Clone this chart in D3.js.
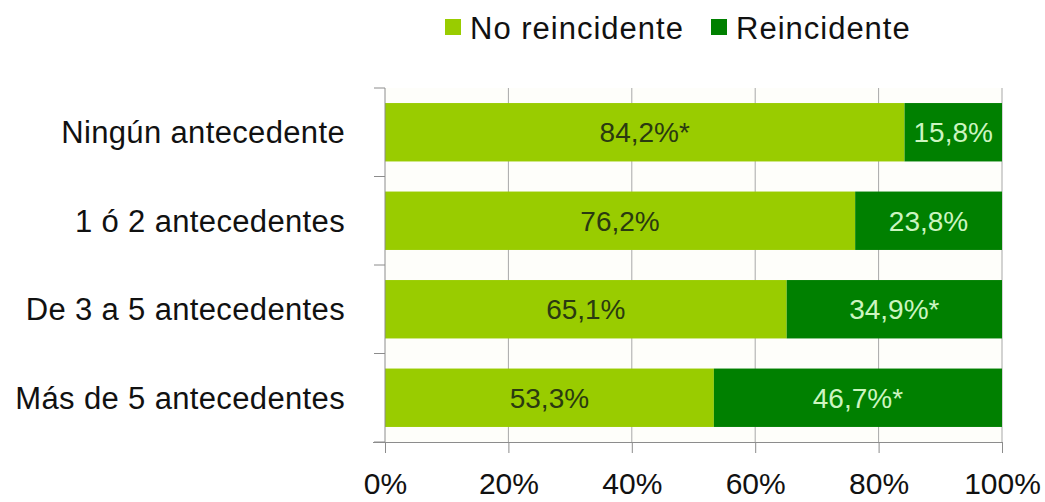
<!DOCTYPE html>
<html>
<head>
<meta charset="utf-8">
<script src="https://cdn.jsdelivr.net/npm/d3@7"></script>
<style>
  html, body { margin: 0; padding: 0; background: #ffffff; }
  svg { display: block; font-family: "Liberation Sans", Arial, sans-serif; }
</style>
</head>
<body>
<svg id="chart" width="1045" height="502"></svg>
<script>
// Categories (top to bottom) and the two stacked series, in percent
const categories = ["Ningún antecedente", "1 ó 2 antecedentes", "De 3 a 5 antecedentes", "Más de 5 antecedentes"];
const seriesNames = ["No reincidente", "Reincidente"];
const noReincidente = [84.2, 76.2, 65.1, 53.3];
const reincidente = [15.8, 23.8, 34.9, 46.7];
// Statistically significant cells get an asterisk
const sigNoReincidente = [true, false, false, false];
const sigReincidente = [false, false, true, true];
const xTicks = [0, 20, 40, 60, 80, 100];

const colors = ["#99cc00", "#008000"];
const labelColors = ["#2a3a10", "#ccf5c0"];

const svg = d3.select("#chart");
const margin = { left: 385, right: 43, top: 88, bottom: 60 };
const W = 1045, H = 502;
const plotBottom = H - margin.bottom;

const x = d3.scaleLinear().domain([0, 100]).range([margin.left, W - margin.right]);
const y = d3.scaleBand().domain(categories).range([margin.top, plotBottom]).paddingInner(0.34).paddingOuter(0.17);
const yOuter = d3.scaleBand().domain(categories).range([margin.top, plotBottom]);

// Plot background
svg.append("rect")
  .attr("x", x(0)).attr("y", margin.top)
  .attr("width", x(100) - x(0)).attr("height", plotBottom - margin.top)
  .attr("fill", "#fefefa");

// Vertical gridlines
svg.append("g").selectAll("line")
  .data(xTicks.slice(1))
  .join("line")
  .attr("x1", d => x(d)).attr("x2", d => x(d))
  .attr("y1", margin.top).attr("y2", plotBottom)
  .attr("stroke", "#a8a8a8").attr("stroke-width", 1);

// Stacked bars
const rows = categories.map((c, i) => ({ cat: c, v: [noReincidente[i], reincidente[i]], sig: [sigNoReincidente[i], sigReincidente[i]] }));
const fmt = v => d3.format(".1f")(v).replace(".", ",") + "%";

const barG = svg.append("g");
rows.forEach(r => {
  let start = 0;
  r.v.forEach((v, k) => {
    barG.append("rect")
      .attr("x", x(start)).attr("y", y(r.cat))
      .attr("width", x(start + v) - x(start)).attr("height", y.bandwidth())
      .attr("fill", colors[k]);
    barG.append("text")
      .attr("x", (x(start) + x(start + v)) / 2)
      .attr("y", y(r.cat) + y.bandwidth() / 2)
      .attr("dy", "0.36em")
      .attr("text-anchor", "middle")
      .attr("font-size", 28)
      .attr("fill", labelColors[k])
      .text(fmt(v) + (r.sig[k] ? "*" : ""));
    start += v;
  });
});

// Y axis: line with ticks at band boundaries
const axisColor = "#8c8c8c";
svg.append("line")
  .attr("x1", x(0)).attr("x2", x(0))
  .attr("y1", margin.top).attr("y2", plotBottom)
  .attr("stroke", axisColor);
const bounds = categories.map(c => yOuter(c)).concat([plotBottom]);
svg.append("g").selectAll("line")
  .data(bounds)
  .join("line")
  .attr("x1", x(0) - 11).attr("x2", x(0))
  .attr("y1", d => d).attr("y2", d => d)
  .attr("stroke", axisColor);

// Category labels
svg.append("g").selectAll("text")
  .data(categories)
  .join("text")
  .attr("x", 345)
  .attr("y", d => yOuter(d) + yOuter.bandwidth() / 2)
  .attr("dy", "0.36em")
  .attr("text-anchor", "end")
  .attr("font-size", 31)
  .attr("letter-spacing", 0.35)
  .attr("fill", "#111")
  .text(d => d);

// X axis
const xAxis = d3.axisBottom(x)
  .tickValues(xTicks)
  .tickFormat(d => d + "%")
  .tickSize(11)
  .tickPadding(20);
const gx = svg.append("g")
  .attr("transform", `translate(0,${plotBottom})`)
  .call(xAxis);
gx.select(".domain").attr("stroke", axisColor).attr("d", `M${x(0) - 12},0.5H${x(100)}`);
gx.selectAll(".tick line").attr("stroke", axisColor);
gx.selectAll(".tick text")
  .attr("font-size", 30)
  .attr("font-family", "'Liberation Sans', Arial, sans-serif")
  .attr("fill", "#111")
  .attr("dy", "0.71em");

// Legend
const legendItems = [
  { name: seriesNames[0], color: colors[0], x: 445 },
  { name: seriesNames[1], color: colors[1], x: 711 }
];
const lg = svg.append("g");
legendItems.forEach(it => {
  lg.append("rect")
    .attr("x", it.x).attr("y", 19)
    .attr("width", 16).attr("height", 16)
    .attr("fill", it.color);
  lg.append("text")
    .attr("x", it.x + 25).attr("y", 28)
    .attr("dy", "0.36em")
    .attr("font-size", 31)
    .attr("letter-spacing", 1.0)
    .attr("fill", "#111")
    .text(it.name);
});
</script>
</body>
</html>
